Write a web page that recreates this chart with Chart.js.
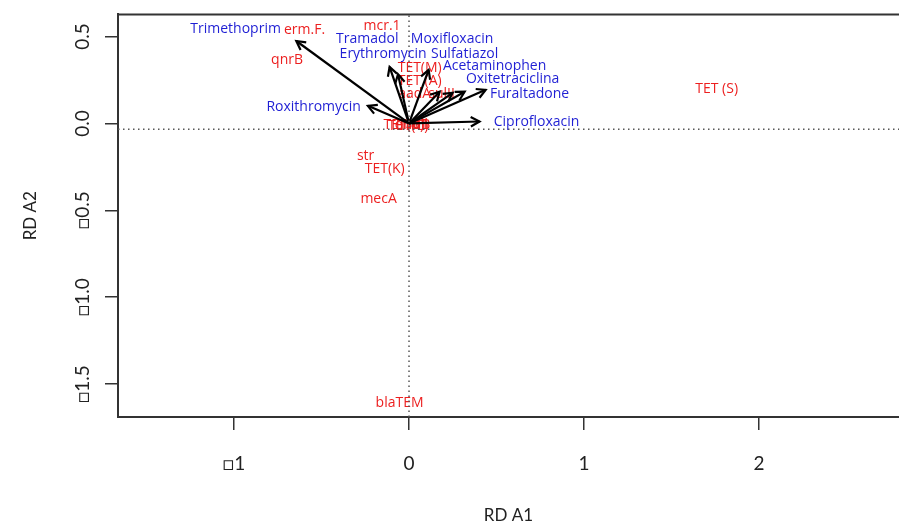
<!DOCTYPE html>
<html>
<head>
<meta charset="utf-8">
<script src="https://cdn.jsdelivr.net/npm/chart.js@4"></script>
<style>
  body { margin: 0; background: #fff; }
  canvas { display: block; }
</style>
</head>
<body>
<canvas id="rda" width="899" height="526"></canvas>
<script>
// axis ranges and ticks
const xRange = [-1.663, 2.80];
const yRange = [-1.689, 0.627];
const xTicks = [-1, 0, 1, 2];
const xTickLabels = ['\u25A11', '0', '1', '2'];
const yTicks = [-1.5, -1, -0.5, 0, 0.5];
const yTickLabels = ['\u25A11.5', '\u25A11.0', '\u25A10.5', '0.0', '0.5'];
const hLineY = -0.033;

// drugs (arrows, blue labels)
const drugNames = ['Trimethoprim', 'Roxithromycin', 'Tramadol', 'Erythromycin', 'Moxifloxacin',
  'Sulfatiazol', 'Acetaminophen', 'Oxitetraciclina', 'Furaltadone', 'Ciprofloxacin'];
const drugX = [-0.644, -0.235, -0.111, -0.063, 0.112, 0.175, 0.249, 0.318, 0.438, 0.403];
const drugY = [0.474, 0.101, 0.325, 0.283, 0.308, 0.182, 0.176, 0.182, 0.193, 0.011];
const drugLabelX = [-0.991, -0.545, -0.239, -0.148, 0.246, 0.318, 0.489, 0.592, 0.689, 0.729];
const drugLabelY = [0.541, 0.092, 0.484, 0.398, 0.484, 0.398, 0.331, 0.255, 0.169, 0.006];

// genes (red labels)
const geneNames = ['mcr.1', 'erm.F.', 'qnrB', 'TET(M)', 'TET (A)', 'aadA', 'sulII', 'TET (S)',
  'str', 'TET(K)', 'mecA', 'blaTEM', 'TET(B)', 'ermB', 'sulI', 'TET(C)', 'intI1'];
const geneX = [-0.154, -0.597, -0.697, 0.061, 0.061, 0.032, 0.186, 1.758,
  -0.248, -0.139, -0.174, -0.054, -0.03, 0.02, 0.045, -0.005, 0.03];
const geneY = [0.560, 0.536, 0.364, 0.321, 0.245, 0.169, 0.169, 0.197,
  -0.185, -0.261, -0.433, -1.609, -0.01, -0.012, -0.006, -0.016, -0.008];

const blue = '#1f1fd4';
const red = '#ec1f1f';
const axisCol = '#333';

const datasets = [
  {
    type: 'line', data: [{x: 0, y: yRange[0]}, {x: 0, y: yRange[1]}],
    borderColor: '#555', borderWidth: 1.5, borderDash: [1.5, 3.5], pointRadius: 0
  },
  {
    type: 'line', data: [{x: xRange[0], y: hLineY}, {x: xRange[1], y: hLineY}],
    borderColor: '#555', borderWidth: 1.5, borderDash: [1.5, 3.5], pointRadius: 0
  }
];
drugNames.forEach((name, i) => {
  datasets.push({
    type: 'line', label: name, arrow: true,
    data: [{x: 0, y: 0}, {x: drugX[i], y: drugY[i]}],
    borderColor: '#000', borderWidth: 2.2, pointRadius: 0
  });
});

function drawLabels(chart, names, xs, ys, color) {
  const ctx = chart.ctx, sx = chart.scales.x, sy = chart.scales.y;
  ctx.save();
  ctx.font = '14px "Open Sans"';
  ctx.fillStyle = color;
  ctx.textAlign = 'center';
  ctx.textBaseline = 'middle';
  names.forEach((n, i) => ctx.fillText(n, sx.getPixelForValue(xs[i]), sy.getPixelForValue(ys[i])));
  ctx.restore();
}

const rdaPlugin = {
  id: 'rda',
  beforeDatasetsDraw(chart) {
    drawLabels(chart, geneNames, geneX, geneY, red);
  },
  afterDatasetsDraw(chart) {
    const ctx = chart.ctx;
    // arrowheads
    chart.data.datasets.forEach((ds, i) => {
      if (!ds.arrow) return;
      const pts = chart.getDatasetMeta(i).data;
      const a = pts[0], b = pts[1];
      const ang = Math.atan2(b.y - a.y, b.x - a.x);
      const len = 10;
      ctx.save();
      ctx.strokeStyle = '#000';
      ctx.lineWidth = 2.2;
      ctx.beginPath();
      ctx.moveTo(b.x - len * Math.cos(ang - 0.5), b.y - len * Math.sin(ang - 0.5));
      ctx.lineTo(b.x, b.y);
      ctx.lineTo(b.x - len * Math.cos(ang + 0.5), b.y - len * Math.sin(ang + 0.5));
      ctx.stroke();
      ctx.restore();
    });
    drawLabels(chart, drugNames, drugLabelX, drugLabelY, blue);
    // top frame line
    const ca = chart.chartArea;
    ctx.save();
    ctx.strokeStyle = axisCol;
    ctx.lineWidth = 2;
    ctx.beginPath();
    ctx.moveTo(ca.left, ca.top);
    ctx.lineTo(ca.right + 2, ca.top);
    ctx.stroke();
    ctx.restore();
  }
};

new Chart(document.getElementById('rda'), {
  type: 'scatter',
  data: { datasets },
  plugins: [rdaPlugin],
  options: {
    responsive: false,
    animation: false,
    layout: { padding: { top: 13, right: 0, left: 0, bottom: 0 } },
    plugins: { legend: { display: false }, tooltip: { enabled: false } },
    scales: {
      x: {
        type: 'linear', min: xRange[0], max: xRange[1],
        afterBuildTicks: s => { s.ticks = xTicks.map(v => ({ value: v })); },
        afterFit: s => { s.height = 109; },
        ticks: {
          callback: (v) => xTickLabels[xTicks.indexOf(v)],
          color: '#222', font: { family: 'Lato', size: 19 }, padding: 22, maxRotation: 0
        },
        grid: { drawOnChartArea: false, drawTicks: true, tickLength: 13, color: axisCol, lineWidth: 1.5 },
        border: { display: true, color: axisCol, width: 2 },
        title: { display: true, text: 'RD A1', color: '#222', font: { family: 'Lato', size: 17 }, padding: 0 }
      },
      y: {
        type: 'linear', min: yRange[0], max: yRange[1],
        afterBuildTicks: s => { s.ticks = yTicks.map(v => ({ value: v })); },
        afterFit: s => { s.width = 118; },
        ticks: {
          callback: (v) => yTickLabels[yTicks.indexOf(v)],
          color: '#222', font: { family: 'Lato', size: 19 }, padding: 3,
          minRotation: 90, maxRotation: 90, crossAlign: 'center'
        },
        grid: { drawOnChartArea: false, drawTicks: true, tickLength: 13, color: axisCol, lineWidth: 1.5 },
        border: { display: true, color: axisCol, width: 2 },
        title: { display: true, text: 'RD A2', color: '#222', font: { family: 'Lato', size: 17 }, padding: { top: 20, bottom: 0 } }
      }
    }
  }
});
</script>
</body>
</html>
